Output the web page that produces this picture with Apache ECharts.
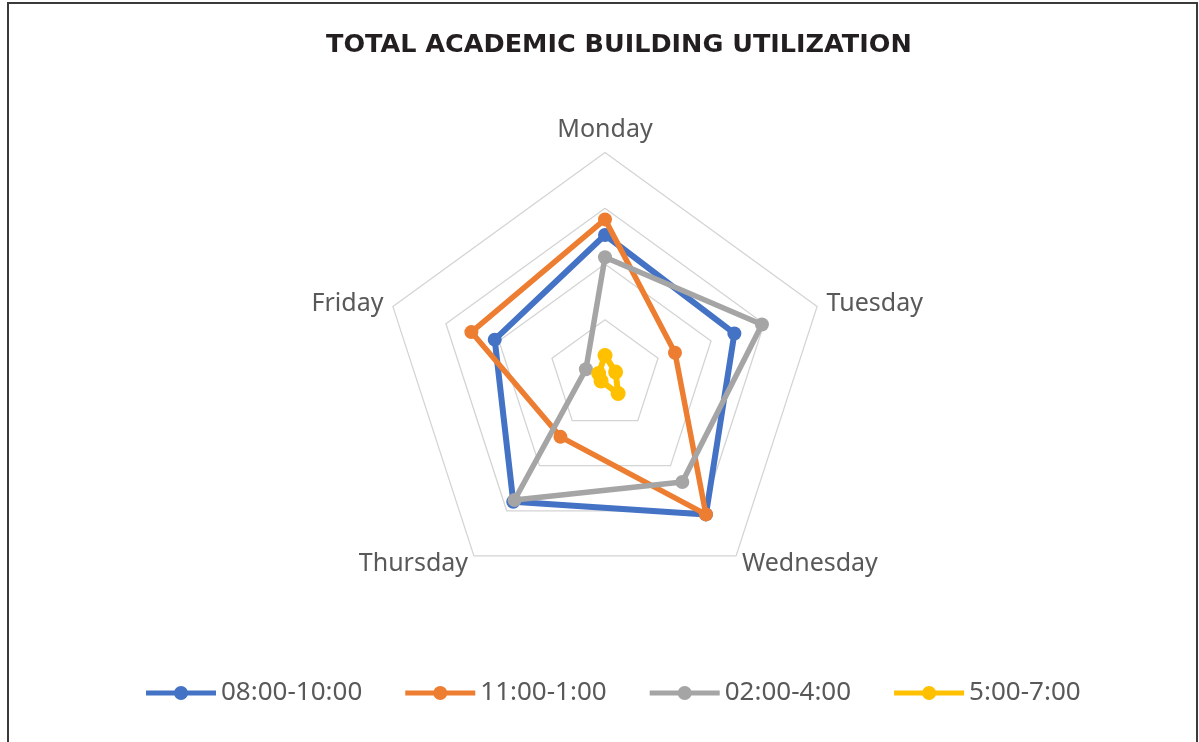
<!DOCTYPE html>
<html>
<head>
<meta charset="utf-8">
<script src="https://cdn.jsdelivr.net/npm/echarts@6/dist/echarts.min.js"></script>
<style>
  html, body { margin: 0; padding: 0; background: #fff; }
  #chart { position: absolute; left: 0; top: 0; width: 1199px; height: 742px; }
  #frame {
    position: absolute; left: 7px; top: 2px; width: 1187px; height: 750px;
    border: 2px solid #3a3a3a; pointer-events: none;
  }
</style>
</head>
<body>
<div id="chart"></div>
<div id="frame"></div>
<script>
// days in clockwise order, starting at the top
const days = ['Monday', 'Tuesday', 'Wednesday', 'Thursday', 'Friday']
const slots = ['08:00-10:00', '11:00-1:00', '02:00-4:00', '5:00-7:00']
const morning = [63, 61, 77, 70, 52]
const midday = [70, 33, 77, 34, 63]
const afternoon = [53, 74, 59, 69, 9]
const evening = [9, 5, 10, 3, 3]
const axisMax = 100

const colors = ['#4472C4', '#ED7D31', '#A5A5A5', '#FFC000']
const widths = [6, 5.5, 5.5, 6]

// echarts lays radar indicators counter-clockwise, so walk the days backwards after Monday
const order = [0, 4, 3, 2, 1]
const reorder = arr => order.map(i => arr[i])

const chart = echarts.init(document.getElementById('chart'))

// legend marker: a thick line with a dot in the middle
const lineDot = 'path://M0,4.5 H70 V9.5 H0 Z M28,7 A7,7 0 1,1 42,7 A7,7 0 1,1 28,7 Z'

const values = [morning, midday, afternoon, evening]

chart.setOption({
  animation: false,
  title: {
    text: 'TOTAL ACADEMIC BUILDING UTILIZATION',
    left: 321,
    top: 27,
    textStyle: {
      fontFamily: 'DejaVu Sans',
      fontWeight: 'bold',
      fontSize: 25.5,
      color: '#231F20'
    }
  },
  legend: {
    data: slots.map(s => ({ name: s, icon: lineDot })),
    bottom: 31,
    left: 141,
    itemWidth: 70,
    itemHeight: 14,
    itemGap: 43,
    textStyle: { fontFamily: 'Noto Sans', fontSize: 26, color: '#595959' }
  },
  radar: {
    center: [605, 375.5],
    radius: 223,
    startAngle: 90,
    splitNumber: 4,
    shape: 'polygon',
    indicator: reorder(days).map(d => ({ name: d, min: 0, max: axisMax })),
    axisName: { fontFamily: 'Noto Sans', fontSize: 25, color: '#595959' },
    nameGap: 10,
    axisLine: { show: false },
    axisTick: { show: false },
    axisLabel: { show: false },
    splitArea: { show: false },
    splitLine: { lineStyle: { color: '#D4D4D4', width: 1.3 } }
  },
  series: slots.map((s, i) => ({
    type: 'radar',
    name: s,
    symbol: 'circle',
    symbolSize: i === 3 ? 15 : 14,
    z: 2 + i,
    itemStyle: { color: colors[i] },
    lineStyle: { color: colors[i], width: widths[i] },
    data: [{ name: s, value: reorder(values[i]) }]
  }))
})
</script>
</body>
</html>
